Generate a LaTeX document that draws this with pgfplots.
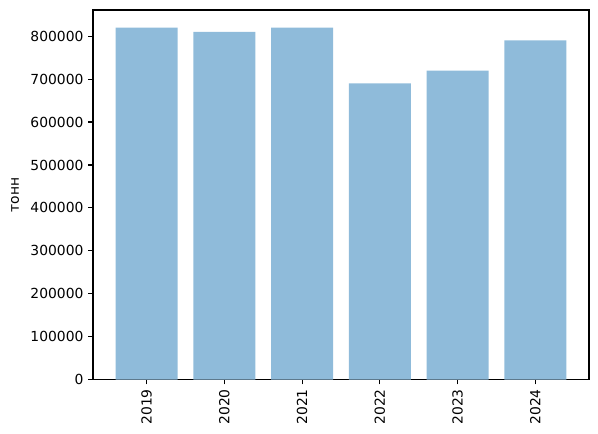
\documentclass[border=0pt]{standalone}
\usepackage{fontspec}
\setmainfont{DejaVu Sans}
\usepackage{pgfplots}
\pgfplotsset{compat=1.18}
\definecolor{barblue}{RGB}{143,187,218}
\begin{document}
\begin{tikzpicture}
\useasboundingbox (0,0) rectangle (448.5pt,325.5pt);
\begin{axis}[
  at={(69.75pt,40.8pt)}, anchor=south west,
  scale only axis, width=372pt, height=277.2pt,
  xmin=-0.69, xmax=5.69, ymin=0, ymax=861000,
  xtick={0,1,2,3,4,5},
  xticklabels={2019,2020,2021,2022,2023,2024},
  ytick={0,100000,200000,300000,400000,500000,600000,700000,800000},
  scaled y ticks=false,
  /pgf/number format/fixed, /pgf/number format/1000 sep={},
  /pgf/number format/assume math mode=true,
  tick align=outside, major tick length=3.65pt,
  xtick pos=left, ytick pos=left,
  axis line style={line width=0.83pt},
  every tick/.style={line width=0.83pt, black},
  tick label style={font=\fontsize{10.4}{12}\selectfont},
  xticklabel style={rotate=90, anchor=east},
  ylabel={тонн},
  ylabel style={font=\fontsize{10.4}{12}\selectfont, at={(axis description cs:-0.157,0.5)}, anchor=center, rotate=0},
]
\addplot[ybar, bar width=0.8, fill=barblue, draw=none] coordinates {
  (0,820000) (1,810000) (2,820000) (3,690000) (4,720000) (5,790000)
};
\end{axis}
\end{tikzpicture}
\end{document}
